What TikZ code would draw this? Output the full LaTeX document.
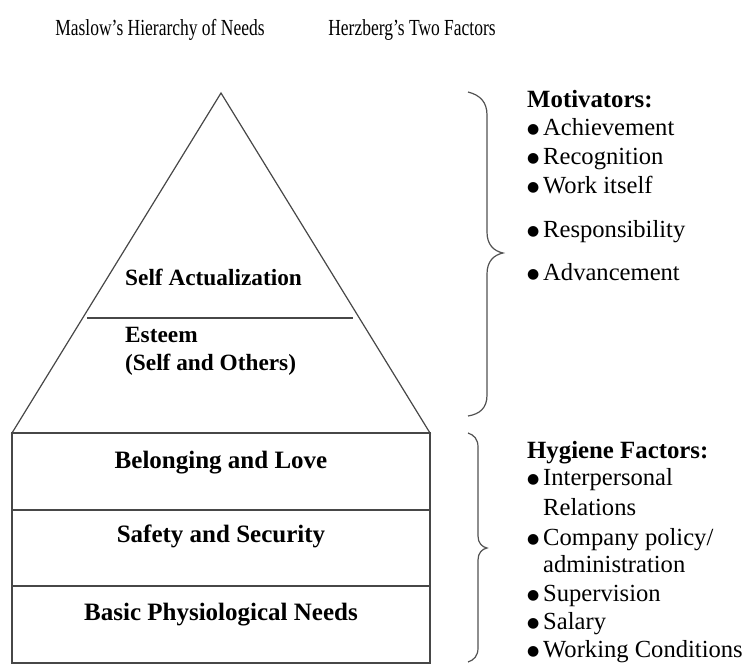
\documentclass[tikz,border=0pt]{standalone}
\usepackage{fontspec}
\setmainfont{Liberation Serif}
\newfontfamily\mytitlefont{Liberation Serif}[FakeStretch=0.76]
\newfontfamily\mylistfont{Liberation Serif}
\newfontfamily\mybulletfont{DejaVu Sans}
\newcommand{\mybul}{\makebox[16pt][l]{\raisebox{1.5pt}{\mybulletfont\fontsize{14}{14}\selectfont ●}}}
\tikzset{
  shapeline/.style={draw=black!72, line width=1.2pt},
  bracepath/.style={draw=black!68, line width=1.2pt},
  lbl/.style={font=\rmfamily\bfseries\fontsize{25}{25}\selectfont, inner sep=0pt},
  tlbl/.style={font=\rmfamily\bfseries\fontsize{23.3}{25}\selectfont, inner sep=0pt, anchor=base west},
  item/.style={font=\mylistfont\fontsize{24.6}{28}\selectfont, inner sep=0pt, anchor=base west},
  head/.style={font=\rmfamily\bfseries\fontsize{24.8}{28}\selectfont, inner sep=0pt, anchor=base west},
  ttl/.style={font=\mytitlefont\fontsize{23}{24}\selectfont, inner sep=0pt, anchor=base},
}
\begin{document}
\begin{tikzpicture}[x=1pt,y=-1pt]
\useasboundingbox (0,0) rectangle (750,664);
% titles
\node[ttl] (t1) at (160,35) {Maslow’s Hierarchy of Needs};
\node[ttl] (t2) at (412,35) {Herzberg’s Two Factors};
% pyramid
\draw[shapeline] (12,433) -- (221,93) -- (430,433) -- cycle;
\draw[shapeline] (87,318) -- (353,318);
\draw[shapeline] (12,433) rectangle (430,663);
\draw[shapeline] (12,510) -- (430,510);
\draw[shapeline] (12,586) -- (430,586);
% pyramid labels
\node[tlbl] (sa) at (125,285) {Self Actualization};
\node[tlbl] (es1) at (125,342) {Esteem};
\node[tlbl] (es2) at (125,370) {(Self and Others)};
\node[lbl, anchor=base] (bl) at (221,468) {Belonging and Love};
\node[lbl, anchor=base] (ss) at (221,542) {Safety and Security};
\node[lbl, anchor=base] (bp) at (221,620) {Basic Physiological Needs};
% braces
\draw[bracepath] (468,92) .. controls (480,95) and (487,102) .. (487,115)
  -- (487,232) .. controls (487,245) and (494,251) .. (503,253)
  .. controls (494,255) and (487,261) .. (487,274)
  -- (487,395) .. controls (487,408) and (480,414) .. (468,416);
\draw[bracepath] (468,433) .. controls (474,435) and (478,439) .. (478,447)
  -- (478,536) .. controls (478,543) and (482,547) .. (487,548)
  .. controls (482,549) and (478,553) .. (478,560)
  -- (478,648) .. controls (478,656) and (474,660) .. (468,662);
% motivators
\node[head] (mh) at (527,107) {Motivators:};
\node[item] (m1) at (527,135) {\mybul Achievement};
\node[item] (m2) at (527,164) {\mybul Recognition};
\node[item] (m3) at (527,193) {\mybul Work itself};
\node[item] (m4) at (527,237) {\mybul Responsibility};
\node[item] (m5) at (527,280) {\mybul Advancement};
% hygiene
\node[head] (hh) at (527,458) {Hygiene Factors:};
\node[item] (h1) at (527,485) {\mybul Interpersonal};
\node[item] (h1b) at (543,515) {Relations};
\node[item] (h2) at (527,545) {\mybul Company policy/};
\node[item] (h2b) at (543,572) {administration};
\node[item] (h3) at (527,601) {\mybul Supervision};
\node[item] (h4) at (527,629) {\mybul Salary};
\node[item] (h5) at (527,657) {\mybul Working Conditions};
\end{tikzpicture}
\end{document}
